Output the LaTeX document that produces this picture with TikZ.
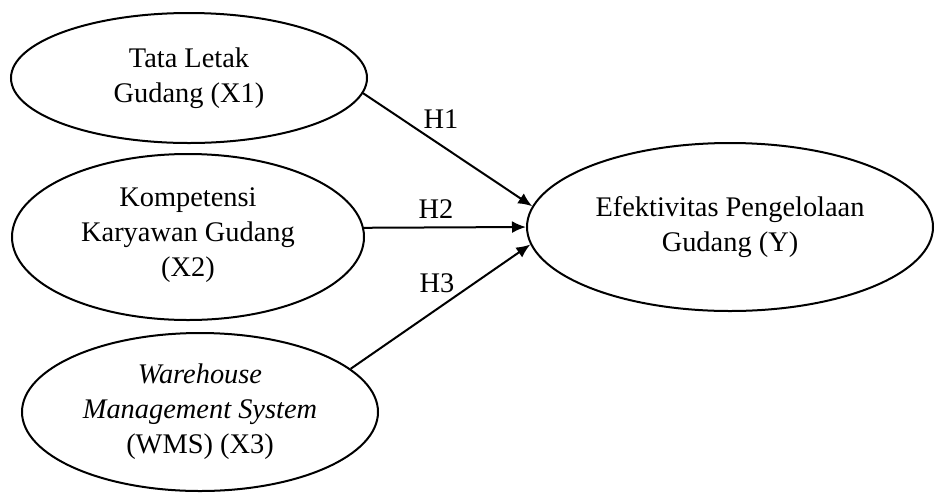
\documentclass[tikz,border=0pt]{standalone}
\usepackage{fontspec}
\setmainfont{Liberation Serif}
\usetikzlibrary{arrows.meta,shapes.geometric}

\tikzset{
  varnode/.style={draw=black,line width=1pt,ellipse,inner sep=0pt,align=center,
    font=\fontsize{14.2}{17.5}\selectfont},
  hyparrow/.style={draw=black,line width=1pt,-{Latex[length=7pt,width=6pt]}},
  hyplabel/.style={font=\fontsize{14.2}{17.5}\selectfont}
}

\begin{document}
\begin{tikzpicture}[x=0.5pt,y=0.5pt,yscale=-1]
\useasboundingbox (0,0) rectangle (937,494);

  % variabel bebas
  \node[varnode,minimum width=178pt,minimum height=65pt] (x1) at (189,78)
    {Tata Letak\\Gudang (X1)};
  \node[varnode,minimum width=176pt,minimum height=83pt] (x2) at (188,237)
    {\\[-10pt]Kompetensi\\Karyawan Gudang\\(X2)};
  \node[varnode,minimum width=178pt,minimum height=79pt] (x3) at (200,412)
    {\textit{Warehouse}\\\textit{Management System}\\(WMS) (X3)};

  % variabel terikat
  \node[varnode,minimum width=203pt,minimum height=84pt] (y) at (730,227)
    {Efektivitas Pengelolaan\\Gudang (Y)};

  % hipotesis
  \path[hyparrow] (x1.-5) -- (y.174);
  \path[hyparrow] (x2.3) -- (y.180);
  \path[hyparrow] (x3.16) -- (y.185);

  \node[hyplabel] (h1) at (441,119) {H1};
  \node[hyplabel] (h2) at (436,209) {H2};
  \node[hyplabel] (h3) at (437,283) {H3};
\end{tikzpicture}
\end{document}
